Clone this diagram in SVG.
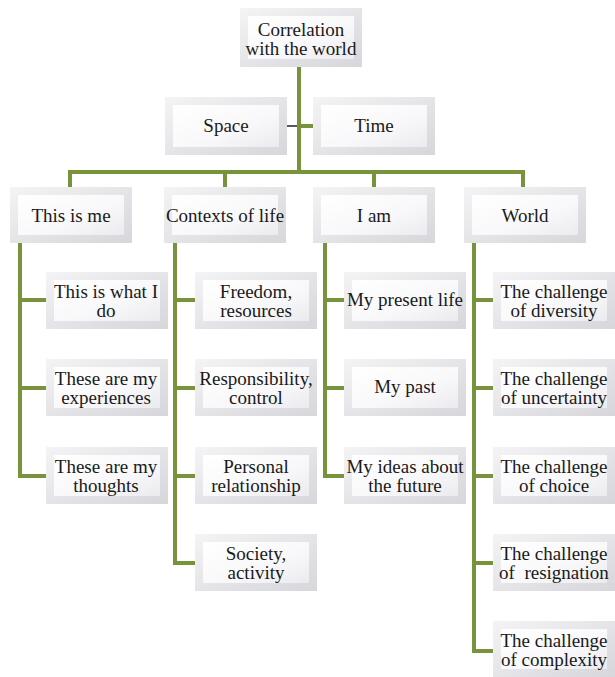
<svg xmlns="http://www.w3.org/2000/svg" width="615" height="677" viewBox="0 0 615 677">
<defs>
<linearGradient id="face" x1="0" y1="0" x2="1" y2="1">
<stop offset="0" stop-color="#ffffff"/>
<stop offset="0.6" stop-color="#f8f8fa"/>
<stop offset="1" stop-color="#ebebef"/>
</linearGradient>
<linearGradient id="edge" x1="0" y1="0" x2="1" y2="1">
<stop offset="0" stop-color="#f4f4f6"/>
<stop offset="1" stop-color="#d6d6db"/>
</linearGradient>
</defs>
<g id="connectors" fill="none" stroke="#77933c" stroke-width="4">
<path d="M299,67 V172"/>
<path d="M299,126 H313"/>
<path d="M287,126 H297" stroke="#222" stroke-width="1.5"/>
<path d="M70,187 V172 H523 V187"/>
<path d="M225,172 V187"/>
<path d="M374,172 V187"/>
<path d="M20,243 V476 H46 M20,300 H46 M20,388 H46"/>
<path d="M175,243 V563 H195 M175,300 H195 M175,388 H195 M175,476 H195"/>
<path d="M325,243 V476 H344 M325,300 H344 M325,388 H344"/>
<path d="M474,243 V651 H493 M474,300 H493 M474,388 H493 M474,476 H493 M474,563 H493"/>
</g>
<g id="n-root"><rect x="240" y="8" width="122" height="59" fill="url(#edge)"/><rect x="248" y="16" width="106" height="43" fill="url(#face)"/><text x="301" y="36" font-family="Liberation Serif" font-size="19" fill="#1a1a1a" text-anchor="middle">Correlation</text><text x="301" y="55" font-family="Liberation Serif" font-size="19" fill="#1a1a1a" text-anchor="middle">with the world</text></g>
<g id="n-space"><rect x="165" y="97" width="122" height="58" fill="url(#edge)"/><rect x="173" y="105" width="106" height="42" fill="url(#face)"/><text x="226" y="132" font-family="Liberation Serif" font-size="19" fill="#1a1a1a" text-anchor="middle">Space</text></g>
<g id="n-time"><rect x="313" y="97" width="122" height="58" fill="url(#edge)"/><rect x="321" y="105" width="106" height="42" fill="url(#face)"/><text x="374" y="132" font-family="Liberation Serif" font-size="19" fill="#1a1a1a" text-anchor="middle">Time</text></g>
<g id="n-me"><rect x="10" y="187" width="122" height="56" fill="url(#edge)"/><rect x="18" y="195" width="106" height="40" fill="url(#face)"/><text x="71" y="222" font-family="Liberation Serif" font-size="19" fill="#1a1a1a" text-anchor="middle">This is me</text></g>
<g id="n-contexts"><rect x="164" y="187" width="122" height="56" fill="url(#edge)"/><rect x="172" y="195" width="106" height="40" fill="url(#face)"/><text x="225" y="222" font-family="Liberation Serif" font-size="19" fill="#1a1a1a" text-anchor="middle">Contexts of life</text></g>
<g id="n-iam"><rect x="313" y="187" width="122" height="56" fill="url(#edge)"/><rect x="321" y="195" width="106" height="40" fill="url(#face)"/><text x="374" y="222" font-family="Liberation Serif" font-size="19" fill="#1a1a1a" text-anchor="middle">I am</text></g>
<g id="n-world"><rect x="464" y="187" width="122" height="56" fill="url(#edge)"/><rect x="472" y="195" width="106" height="40" fill="url(#face)"/><text x="525" y="222" font-family="Liberation Serif" font-size="19" fill="#1a1a1a" text-anchor="middle">World</text></g>
<g id="n-do"><rect x="46" y="272" width="122" height="57" fill="url(#edge)"/><rect x="54" y="280" width="106" height="41" fill="url(#face)"/><text x="106" y="298" font-family="Liberation Serif" font-size="19" fill="#1a1a1a" text-anchor="middle">This is what I</text><text x="106" y="317" font-family="Liberation Serif" font-size="19" fill="#1a1a1a" text-anchor="middle">do</text></g>
<g id="n-exp"><rect x="46" y="359" width="122" height="57" fill="url(#edge)"/><rect x="54" y="367" width="106" height="41" fill="url(#face)"/><text x="106" y="385" font-family="Liberation Serif" font-size="19" fill="#1a1a1a" text-anchor="middle">These are my</text><text x="106" y="404" font-family="Liberation Serif" font-size="19" fill="#1a1a1a" text-anchor="middle">experiences</text></g>
<g id="n-thoughts"><rect x="46" y="447" width="122" height="57" fill="url(#edge)"/><rect x="54" y="455" width="106" height="41" fill="url(#face)"/><text x="106" y="473" font-family="Liberation Serif" font-size="19" fill="#1a1a1a" text-anchor="middle">These are my</text><text x="106" y="492" font-family="Liberation Serif" font-size="19" fill="#1a1a1a" text-anchor="middle">thoughts</text></g>
<g id="n-freedom"><rect x="195" y="272" width="122" height="57" fill="url(#edge)"/><rect x="203" y="280" width="106" height="41" fill="url(#face)"/><text x="256" y="298" font-family="Liberation Serif" font-size="19" fill="#1a1a1a" text-anchor="middle">Freedom,</text><text x="256" y="317" font-family="Liberation Serif" font-size="19" fill="#1a1a1a" text-anchor="middle">resources</text></g>
<g id="n-resp"><rect x="195" y="359" width="122" height="57" fill="url(#edge)"/><rect x="203" y="367" width="106" height="41" fill="url(#face)"/><text x="256" y="385" font-family="Liberation Serif" font-size="19" fill="#1a1a1a" text-anchor="middle">Responsibility,</text><text x="256" y="404" font-family="Liberation Serif" font-size="19" fill="#1a1a1a" text-anchor="middle">control</text></g>
<g id="n-personal"><rect x="195" y="447" width="122" height="57" fill="url(#edge)"/><rect x="203" y="455" width="106" height="41" fill="url(#face)"/><text x="256" y="473" font-family="Liberation Serif" font-size="19" fill="#1a1a1a" text-anchor="middle">Personal</text><text x="256" y="492" font-family="Liberation Serif" font-size="19" fill="#1a1a1a" text-anchor="middle">relationship</text></g>
<g id="n-society"><rect x="195" y="534" width="122" height="57" fill="url(#edge)"/><rect x="203" y="542" width="106" height="41" fill="url(#face)"/><text x="256" y="560" font-family="Liberation Serif" font-size="19" fill="#1a1a1a" text-anchor="middle">Society,</text><text x="256" y="579" font-family="Liberation Serif" font-size="19" fill="#1a1a1a" text-anchor="middle">activity</text></g>
<g id="n-present"><rect x="344" y="272" width="122" height="57" fill="url(#edge)"/><rect x="352" y="280" width="106" height="41" fill="url(#face)"/><text x="405" y="306" font-family="Liberation Serif" font-size="19" fill="#1a1a1a" text-anchor="middle">My present life</text></g>
<g id="n-past"><rect x="344" y="359" width="122" height="57" fill="url(#edge)"/><rect x="352" y="367" width="106" height="41" fill="url(#face)"/><text x="405" y="393" font-family="Liberation Serif" font-size="19" fill="#1a1a1a" text-anchor="middle">My past</text></g>
<g id="n-ideas"><rect x="344" y="447" width="122" height="57" fill="url(#edge)"/><rect x="352" y="455" width="106" height="41" fill="url(#face)"/><text x="405" y="473" font-family="Liberation Serif" font-size="19" fill="#1a1a1a" text-anchor="middle">My ideas about</text><text x="405" y="492" font-family="Liberation Serif" font-size="19" fill="#1a1a1a" text-anchor="middle">the future</text></g>
<g id="n-diversity"><rect x="493" y="272" width="122" height="57" fill="url(#edge)"/><rect x="501" y="280" width="106" height="41" fill="url(#face)"/><text x="554" y="298" font-family="Liberation Serif" font-size="19" fill="#1a1a1a" text-anchor="middle">The challenge</text><text x="554" y="317" font-family="Liberation Serif" font-size="19" fill="#1a1a1a" text-anchor="middle">of diversity</text></g>
<g id="n-uncertainty"><rect x="493" y="359" width="122" height="57" fill="url(#edge)"/><rect x="501" y="367" width="106" height="41" fill="url(#face)"/><text x="554" y="385" font-family="Liberation Serif" font-size="19" fill="#1a1a1a" text-anchor="middle">The challenge</text><text x="554" y="404" font-family="Liberation Serif" font-size="19" fill="#1a1a1a" text-anchor="middle">of uncertainty</text></g>
<g id="n-choice"><rect x="493" y="447" width="122" height="57" fill="url(#edge)"/><rect x="501" y="455" width="106" height="41" fill="url(#face)"/><text x="554" y="473" font-family="Liberation Serif" font-size="19" fill="#1a1a1a" text-anchor="middle">The challenge</text><text x="554" y="492" font-family="Liberation Serif" font-size="19" fill="#1a1a1a" text-anchor="middle">of choice</text></g>
<g id="n-resignation"><rect x="493" y="534" width="122" height="57" fill="url(#edge)"/><rect x="501" y="542" width="106" height="41" fill="url(#face)"/><text x="554" y="560" font-family="Liberation Serif" font-size="19" fill="#1a1a1a" text-anchor="middle">The challenge</text><text x="554" y="579" font-family="Liberation Serif" font-size="19" fill="#1a1a1a" text-anchor="middle" xml:space="preserve">of  resignation</text></g>
<g id="n-complexity"><rect x="493" y="621" width="122" height="56" fill="url(#edge)"/><rect x="501" y="629" width="106" height="40" fill="url(#face)"/><text x="554" y="647" font-family="Liberation Serif" font-size="19" fill="#1a1a1a" text-anchor="middle">The challenge</text><text x="554" y="666" font-family="Liberation Serif" font-size="19" fill="#1a1a1a" text-anchor="middle">of complexity</text></g>
</svg>
